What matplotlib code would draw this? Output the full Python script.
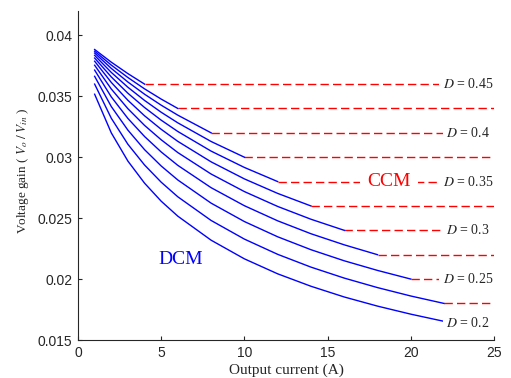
import numpy as np
import matplotlib.pyplot as plt

plt.rcParams['font.family'] = 'Liberation Sans'
plt.rcParams['mathtext.fontset'] = 'stix'

# output current samples (A)
current = [1, 2, 3, 4, 5, 6, 8, 10, 12, 14, 16, 18, 20, 22]

duty = [0.45, 0.425, 0.4, 0.375, 0.35, 0.325, 0.3, 0.275, 0.25, 0.225, 0.2]

# DCM voltage gain, one list per duty cycle
dcm_gain = [
    [0.03884, 0.03780, 0.03686, 0.03600],
    [0.03870, 0.03756, 0.03654, 0.03561, 0.03477, 0.03400],
    [0.03855, 0.03729, 0.03617, 0.03517, 0.03427, 0.03345, 0.03200],
    [0.03836, 0.03696, 0.03574, 0.03466, 0.03369, 0.03282, 0.03129, 0.03000],
    [0.03814, 0.03659, 0.03525, 0.03408, 0.03304, 0.03211, 0.03050, 0.02916,
     0.02800],
    [0.03788, 0.03614, 0.03467, 0.03340, 0.03229, 0.03130, 0.02962, 0.02822,
     0.02703, 0.02600],
    [0.03755, 0.03560, 0.03398, 0.03261, 0.03143, 0.03038, 0.02862, 0.02718,
     0.02596, 0.02491, 0.02400],
    [0.03715, 0.03495, 0.03318, 0.03170, 0.03043, 0.02933, 0.02750, 0.02602,
     0.02478, 0.02372, 0.02281, 0.02200],
    [0.03664, 0.03416, 0.03222, 0.03062, 0.02928, 0.02813, 0.02623, 0.02472,
     0.02347, 0.02241, 0.02150, 0.02071, 0.02000],
    [0.03600, 0.03320, 0.03106, 0.02936, 0.02795, 0.02675, 0.02481, 0.02328,
     0.02203, 0.02098, 0.02008, 0.01930, 0.01861, 0.01800],
    [0.03517, 0.03200, 0.02968, 0.02787, 0.02639, 0.02516, 0.02319, 0.02166,
     0.02043, 0.01941, 0.01853, 0.01778, 0.01712, 0.01653],
]

# CCM gain (constant) for D = 0.45 ... 0.225
ccm_gain = [0.036, 0.034, 0.032, 0.030, 0.028, 0.026, 0.024, 0.022, 0.020, 0.018]

label_text = ['0.45', '0.4', '0.35', '0.3', '0.25', '0.2']
label_y = [0.036, 0.032, 0.028, 0.024, 0.020, 0.0164]

fig = plt.figure(figsize=(5.11, 3.78), dpi=100)
ax = fig.add_axes([78/511, 38/378, 416/511, 329/378])

for g, lvl in zip(dcm_gain, ccm_gain):
    ax.plot([current[len(g) - 1], 25], [lvl, lvl], color='#ff0000', lw=1,
            dashes=(6, 3), zorder=2)

for g in dcm_gain:
    ax.plot(current[:len(g)], g, color='#0000ff', lw=1, zorder=3)

box = dict(facecolor='white', edgecolor='none', pad=2.5)
for t, y in zip(label_text, label_y):
    ax.text(23.45, y, '$D$ = ' + t, family='Liberation Serif', fontsize=10,
            color='#262626', ha='center', va='center', bbox=box, zorder=4)

ax.text(18.7, 0.028, 'CCM', family='Liberation Serif', fontsize=14,
        color='#ff0000', ha='center', va='center',
        bbox=dict(facecolor='white', edgecolor='none', pad=5), zorder=4)
ax.text(6.2, 0.0216, 'DCM', family='Liberation Serif', fontsize=14,
        color='#0000ff', ha='center', va='center', zorder=4)

ax.set_xlim(0, 25)
ax.set_ylim(0.015, 0.042)
ax.set_xticks([0, 5, 10, 15, 20, 25])
ax.set_yticks([0.015, 0.02, 0.025, 0.03, 0.035, 0.04])
ax.set_yticklabels(['0.015', '0.02', '0.025', '0.03', '0.035', '0.04'])

ax.spines['top'].set_visible(False)
ax.spines['right'].set_visible(False)
for s in ['left', 'bottom']:
    ax.spines[s].set_color('#262626')
    ax.spines[s].set_linewidth(0.8)
ax.tick_params(direction='in', length=3, width=0.8, colors='#262626',
               labelsize=10)
ax.tick_params(axis='x', pad=4)
ax.tick_params(axis='y', pad=4)

ax.set_xlabel('Output current (A)', family='Liberation Serif', fontsize=11,
              color='#262626', labelpad=3)
ax.set_ylabel(r'Voltage gain ( $V_o\;/\;V_{in}$ )', family='Liberation Serif',
              fontsize=9.5, color='#262626')
ax.yaxis.set_label_coords(-0.112, 0.515)

fig.savefig('out.png', dpi=100)
